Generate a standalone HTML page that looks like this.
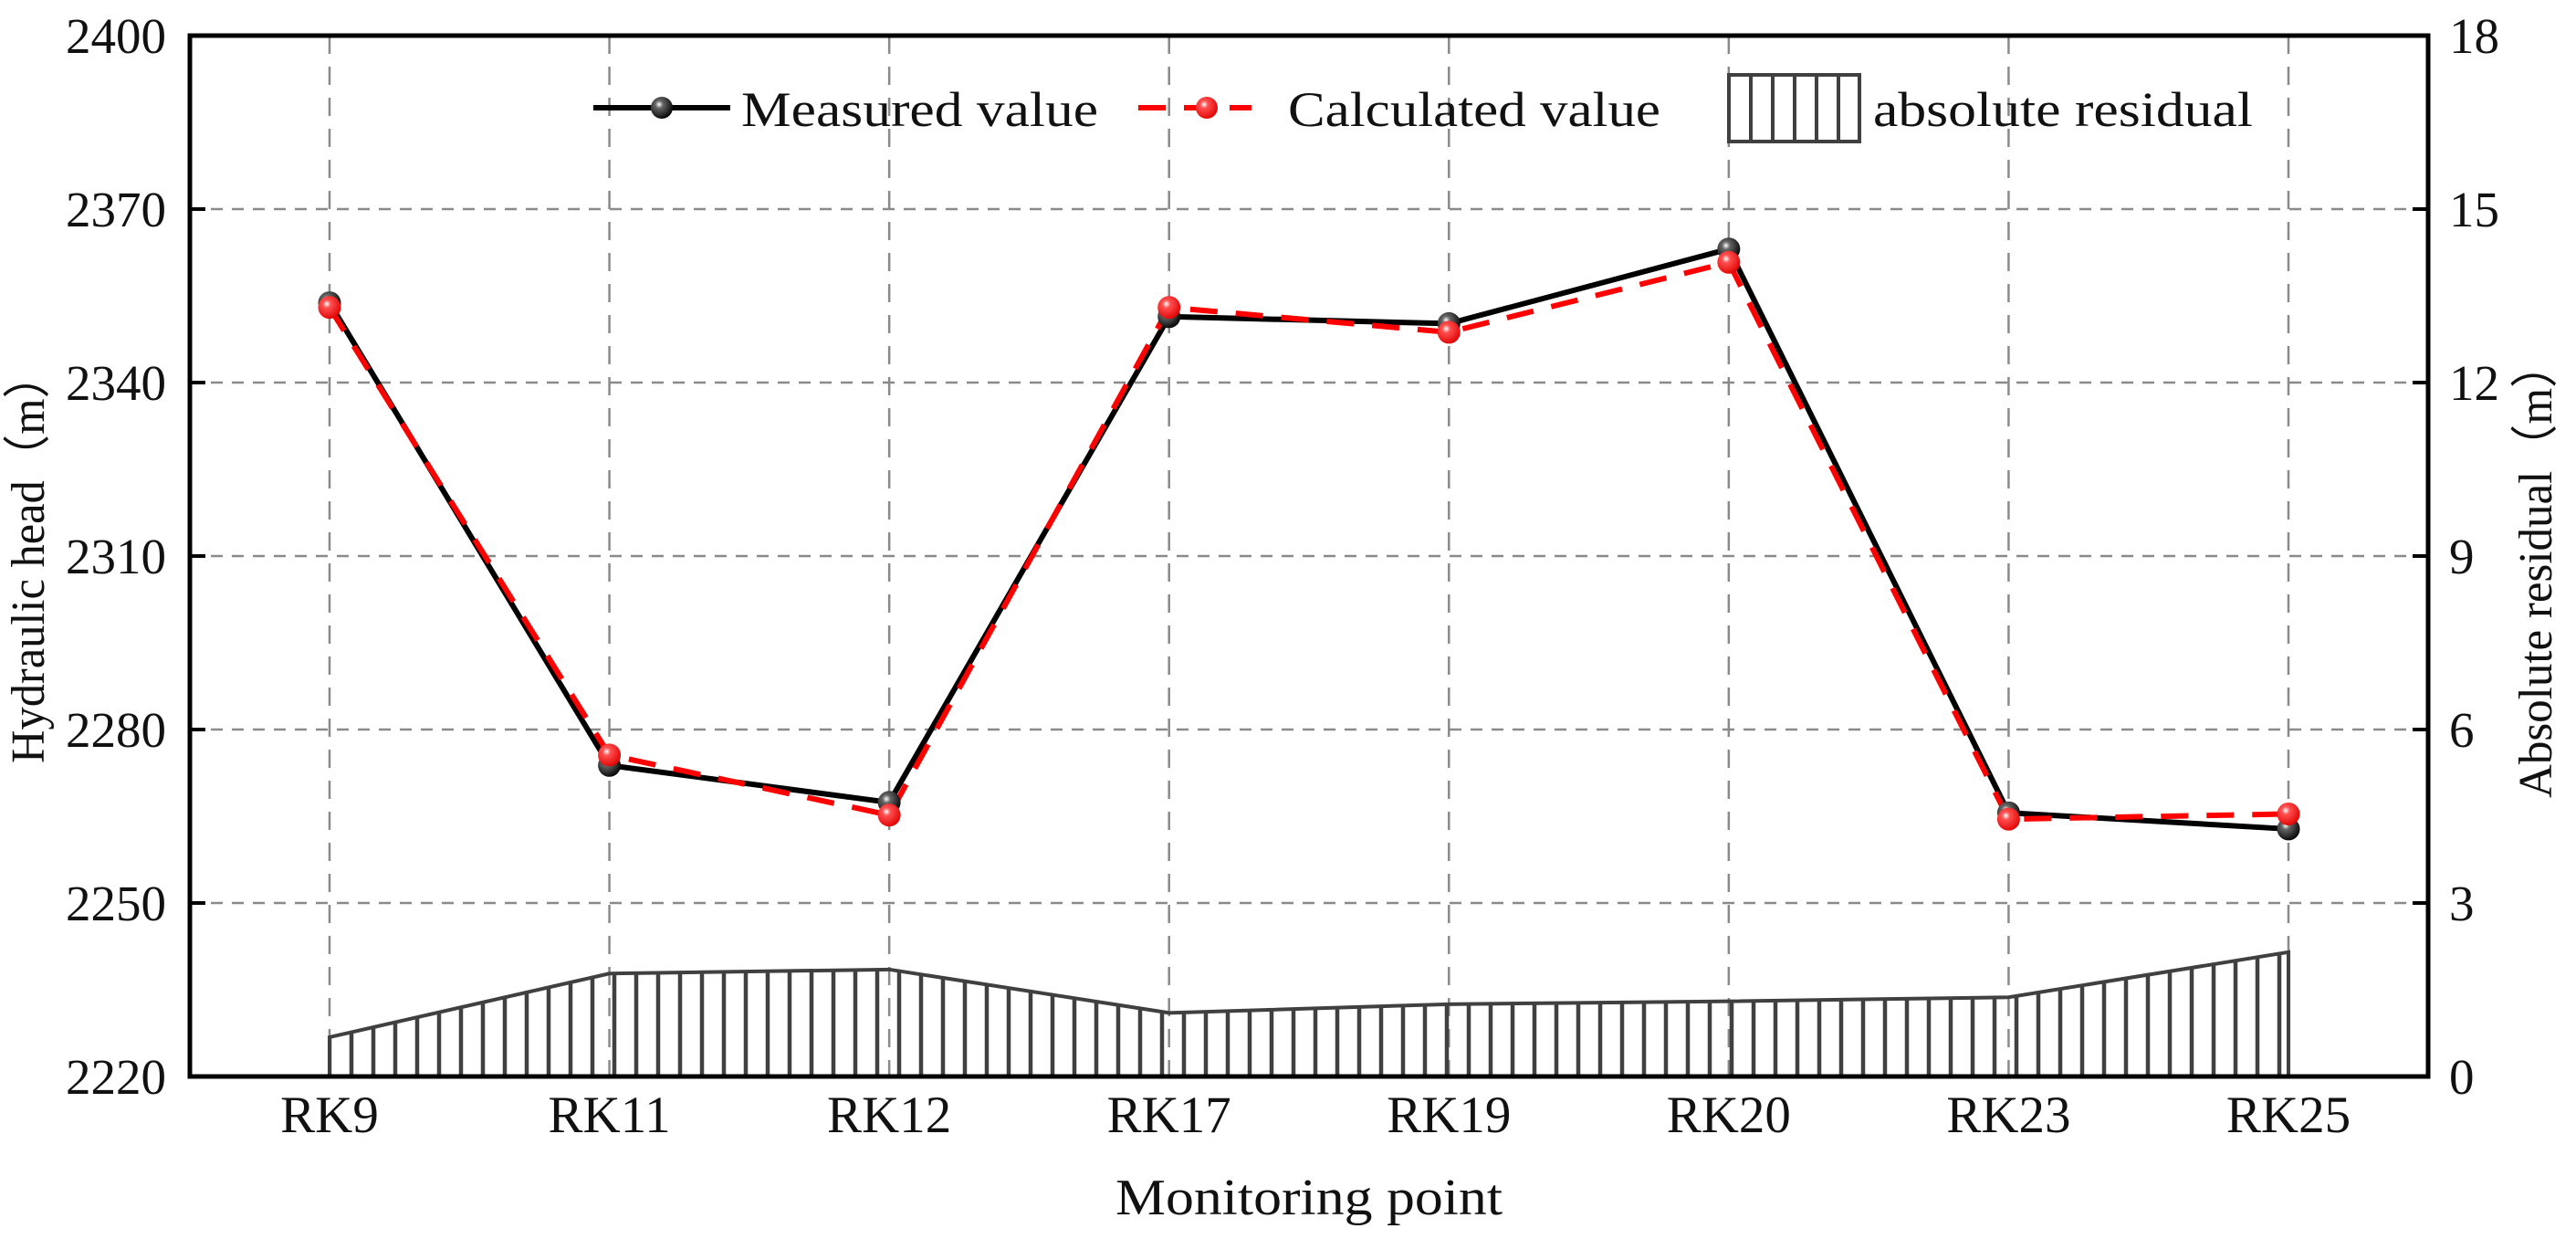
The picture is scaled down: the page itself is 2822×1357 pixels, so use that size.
<!DOCTYPE html>
<html><head><meta charset="utf-8"><style>
html,body{margin:0;padding:0;background:#fff;}
svg{display:block;}
text{font-family:"Liberation Serif",serif;fill:#111;}
</style></head><body>
<svg id="chart" width="2822" height="1357" viewBox="0 0 2822 1357">
<defs>
<radialGradient id="gBlack" cx="0.38" cy="0.35" r="0.7"><stop offset="0" stop-color="#fff"/><stop offset="0.25" stop-color="#666"/><stop offset="1" stop-color="#000"/></radialGradient>
<radialGradient id="gRed" cx="0.38" cy="0.35" r="0.7"><stop offset="0" stop-color="#fff"/><stop offset="0.25" stop-color="#ff5050"/><stop offset="1" stop-color="#e00000"/></radialGradient>
</defs>
<g id="grid"></g>
<g id="bars"></g>
<g id="lines"></g>
<g id="axes"></g>
<text x="48" y="611" font-size="52" text-anchor="middle" transform="rotate(-90 48 611)" textLength="450" lengthAdjust="spacingAndGlyphs">Hydraulic head（m）</text>
<text x="2795" y="624" font-size="52" text-anchor="middle" transform="rotate(-90 2795 624)" textLength="500" lengthAdjust="spacingAndGlyphs">Absolute residual（m）</text>
<text x="1434" y="1330" font-size="56" text-anchor="middle" textLength="424" lengthAdjust="spacingAndGlyphs">Monitoring point</text>
<g>
  <g>
    <line x1="650" y1="118" x2="800" y2="118" stroke="#000" stroke-width="6"/>
    <circle cx="725" cy="118" r="12" fill="url(#gBlack)"/>
    <text x="812" y="138" font-size="54" textLength="391" lengthAdjust="spacingAndGlyphs">Measured value</text>
  </g>
  <g>
    <line x1="1247" y1="118" x2="1371" y2="118" stroke="#f00" stroke-width="6" stroke-dasharray="30 20"/>
    <circle cx="1322" cy="118" r="12" fill="url(#gRed)"/>
    <text x="1411" y="138" font-size="54" textLength="408" lengthAdjust="spacingAndGlyphs">Calculated value</text>
  </g>
  <g>
    <rect x="1894" y="82" width="143" height="73" fill="#fff" stroke="#404040" stroke-width="4"/>
    <line x1="1918" y1="82" x2="1918" y2="155" stroke="#404040" stroke-width="4"/>
    <line x1="1942" y1="82" x2="1942" y2="155" stroke="#404040" stroke-width="4"/>
    <line x1="1966" y1="82" x2="1966" y2="155" stroke="#404040" stroke-width="4"/>
    <line x1="1990" y1="82" x2="1990" y2="155" stroke="#404040" stroke-width="4"/>
    <line x1="2014" y1="82" x2="2014" y2="155" stroke="#404040" stroke-width="4"/>
    <text x="2052" y="138" font-size="54" textLength="416" lengthAdjust="spacingAndGlyphs">absolute residual</text>
  </g>
</g>
</svg>
<script>
const categories = ["RK9","RK11","RK12","RK17","RK19","RK20","RK23","RK25"];
const measured = [2353.8,2273.8,2267.4,2351.4,2350.2,2363.1,2265.6,2262.8];
const calculated = [2353.0,2275.6,2265.2,2353.0,2348.7,2360.8,2264.5,2265.4];
const residual = [0.68,1.78,1.85,1.1,1.25,1.3,1.37,2.15];
const leftTicks = [2220,2250,2280,2310,2340,2370,2400];
const rightTicks = [0,3,6,9,12,15,18];

const NS="http://www.w3.org/2000/svg";
const L=208,R=2660,T=39,B=1179;
const x0=361,x1=2507;
function xs(i){return x0+(x1-x0)*i/(categories.length-1);}
function yl(v){return B-(v-2220)/(2400-2220)*(B-T);}
function yr(v){return B-(v-0)/(18-0)*(B-T);}
function mk(tag,attrs,parent){const e=document.createElementNS(NS,tag);for(const k in attrs)e.setAttribute(k,attrs[k]);parent.appendChild(e);return e;}
const grid=document.getElementById('grid'),bars=document.getElementById('bars'),lines=document.getElementById('lines'),axes=document.getElementById('axes');

leftTicks.forEach((v,i)=>{
  const y=yl(v);
  if(i>0&&i<leftTicks.length-1){
    const g=mk('line',{x1:L,x2:R,y1:y,y2:y,stroke:'#8a8a8a','stroke-width':2.5,'stroke-dasharray':'13 10'},grid);
    
    
    mk('line',{x1:L,x2:L+17,y1:y,y2:y,stroke:'#000','stroke-width':4},axes);
  }
  const t=mk('text',{x:182,y:y+19,'font-size':55,'text-anchor':'end'},axes);
  t.textContent=v;
  
  
});
rightTicks.forEach((v,i)=>{
  const y=yr(v);
  if(i>0&&i<rightTicks.length-1) mk('line',{x1:R-17,x2:R,y1:y,y2:y,stroke:'#000','stroke-width':4},axes);
  const t=mk('text',{x:2683,y:y+19,'font-size':55,'text-anchor':'start'},axes);
  t.textContent=v;
  
  
});
categories.forEach((c,i)=>{
  const x=xs(i);
  const g=mk('line',{x1:x,x2:x,y1:T,y2:B,stroke:'#8a8a8a','stroke-width':2.5,'stroke-dasharray':'20 14'},grid);
  
  
  const t=mk('text',{x:x,y:1240,'font-size':57,'text-anchor':'middle'},axes);
  t.textContent=c;
  
  
});

// residual hatched area
let pts=residual.map((v,i)=>xs(i)+','+yr(v)).join(' ');
const cp=mk('clipPath',{id:'resClip'},bars);
mk('polygon',{points:xs(0)+','+B+' '+pts+' '+xs(residual.length-1)+','+B},cp);
const hatch=mk('g',{'clip-path':'url(#resClip)'},bars);
for(let x=xs(0);x<=xs(residual.length-1)+1;x+=24){
  mk('line',{x1:x,x2:x,y1:T,y2:B,stroke:'#404040','stroke-width':4.5},hatch);
}
const outline=mk('polyline',{points:xs(0)+','+B+' '+pts+' '+xs(residual.length-1)+','+B,fill:'none',stroke:'#404040','stroke-width':4},bars);



// lines
const mline=mk('polyline',{points:measured.map((v,i)=>xs(i)+','+yl(v)).join(' '),fill:'none',stroke:'#000','stroke-width':6,'stroke-linejoin':'round'},lines);


const cline=mk('polyline',{points:calculated.map((v,i)=>xs(i)+','+yl(v)).join(' '),fill:'none',stroke:'#f00','stroke-width':6,'stroke-dasharray':'30 20'},lines);


measured.forEach((v,i)=>{
  const c=mk('circle',{cx:xs(i),cy:yl(v),r:12.5,fill:'url(#gBlack)'},lines);
  
  
});
calculated.forEach((v,i)=>{
  const c=mk('circle',{cx:xs(i),cy:yl(v),r:12.5,fill:'url(#gRed)'},lines);
  
  
});

const frame=mk('rect',{x:L,y:T,width:R-L,height:B-T,fill:'none',stroke:'#000','stroke-width':5},axes);


</script>
</body></html>
